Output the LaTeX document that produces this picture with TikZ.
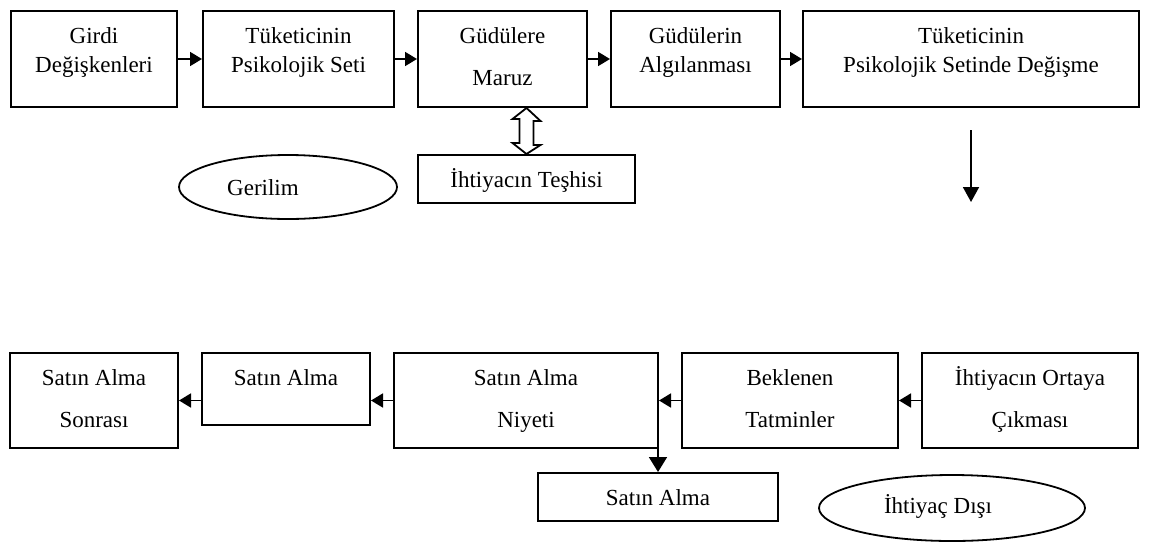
\documentclass[tikz,border=0pt]{standalone}
\usepackage{fontspec}
\setmainfont{Liberation Serif}
\usetikzlibrary{arrows.meta,shapes.geometric}
\begin{document}
\begin{tikzpicture}[x=0.5pt,y=-0.5pt,
  every node/.style={font=\fontsize{11.5}{14}\selectfont},
  box/.style={draw,line width=1pt,rectangle,inner sep=0pt},
  oval/.style={draw,line width=0.9pt,ellipse,inner sep=0pt},
  txt/.style={anchor=base,inner sep=0pt},
  arr/.style={line width=0.9pt,-{Triangle[length=6pt,width=7pt]}},
  darr/.style={line width=0.9pt,-{Triangle[length=7.5pt,width=8pt]}},
  hollow/.style={draw,line width=0.9pt,fill=white,line join=miter}]
\useasboundingbox (0,0) rectangle (1149,541);

% upper row of boxes
\node[box,minimum width=83pt,minimum height=48pt] (g1) at (94,59) {};
\node[box,minimum width=95.5pt,minimum height=48pt] (g2) at (298.5,59) {};
\node[box,minimum width=84.5pt,minimum height=48pt] (g3) at (502.5,59) {};
\node[box,minimum width=84.5pt,minimum height=48pt] (g4) at (695.5,59) {};
\node[box,minimum width=168pt,minimum height=48pt] (g5) at (971,59) {};
\node[box,minimum width=108.5pt,minimum height=24pt] (tes) at (526.5,179) {};
\node[oval,minimum width=109pt,minimum height=32pt] (ger) at (288,187) {};

\node[txt] (g1a) at (94,43) {Girdi};
\node[txt] (g1b) at (94,72) {Değişkenleri};
\node[txt] (g2a) at (298.5,43) {Tüketicinin};
\node[txt] (g2b) at (298.5,72) {Psikolojik Seti};
\node[txt] (g3a) at (502.5,43) {Güdülere};
\node[txt] (g3b) at (502.5,85) {Maruz};
\node[txt] (g4a) at (695.5,43) {Güdülerin};
\node[txt] (g4b) at (695.5,72) {Algılanması};
\node[txt] (g5a) at (971,43) {Tüketicinin};
\node[txt] (g5b) at (971,72) {Psikolojik Setinde Değişme};
\node[txt] (tesa) at (526.5,187) {İhtiyacın Teşhisi};
\node[txt] (gera) at (263,195) {Gerilim};

% lower row of boxes
\node[box,minimum width=84pt,minimum height=47.5pt] (s1) at (94,400.5) {};
\node[box,minimum width=84pt,minimum height=36pt] (s2) at (286,389) {};
\node[box,minimum width=132pt,minimum height=47.5pt] (s3) at (526,400.5) {};
\node[box,minimum width=108pt,minimum height=47.5pt] (s4) at (790,400.5) {};
\node[box,minimum width=108pt,minimum height=47.5pt] (s5) at (1030,400.5) {};
\node[box,minimum width=120pt,minimum height=24pt] (sat) at (658,497) {};
\node[oval,minimum width=133pt,minimum height=33pt] (dis) at (952,508) {};

\node[txt] (s1a) at (94,385) {Satın Alma};
\node[txt] (s1b) at (94,427) {Sonrası};
\node[txt] (s2a) at (286,385) {Satın Alma};
\node[txt] (s3a) at (526,385) {Satın Alma};
\node[txt] (s3b) at (526,427) {Niyeti};
\node[txt] (s4a) at (790,385) {Beklenen};
\node[txt] (s4b) at (790,427) {Tatminler};
\node[txt] (s5a) at (1030,385) {İhtiyacın Ortaya};
\node[txt] (s5b) at (1030,427) {Çıkması};
\node[txt] (sata) at (658,505) {Satın Alma};
\node[txt] (disa) at (938,513) {İhtiyaç Dışı};

% connectors of the upper row
\draw[arr] (g1.east) -- (g2.west);
\draw[arr] (g2.east) -- (g3.west);
\draw[arr] (g3.east) -- (g4.west);
\draw[arr] (g4.east) -- (g5.west);
\coordinate (dtop) at (971,130);
\coordinate (dbot) at (971,202);
\draw[darr] (dtop) -- (dbot);

% two-headed hollow arrow between Maruz and the diagnosis box
\coordinate (ha) at (tes.north |- g3.south);
\draw[hollow] (ha) -- ++(14,13) -- ++(-7,0) -- ++(0,24) -- ++(7,0)
  -- (tes.north) -- ++(-14,-11) -- ++(7,0) -- ++(0,-24) -- ++(-7,0) -- cycle;

% connectors of the lower row
\draw[arr] (s5.west) -- (s4.east);
\draw[arr] (s4.west) -- (s3.east);
\draw[arr] (s3.west) -- (s2.east |- s3.west);
\draw[arr] (s2.west |- s1.east) -- (s1.east);
\coordinate (nstart) at (658,423);
\draw[line width=0.9pt,-{Triangle[length=7.5pt,width=9pt]}] (nstart) -- (sat.north);
\end{tikzpicture}
\end{document}
